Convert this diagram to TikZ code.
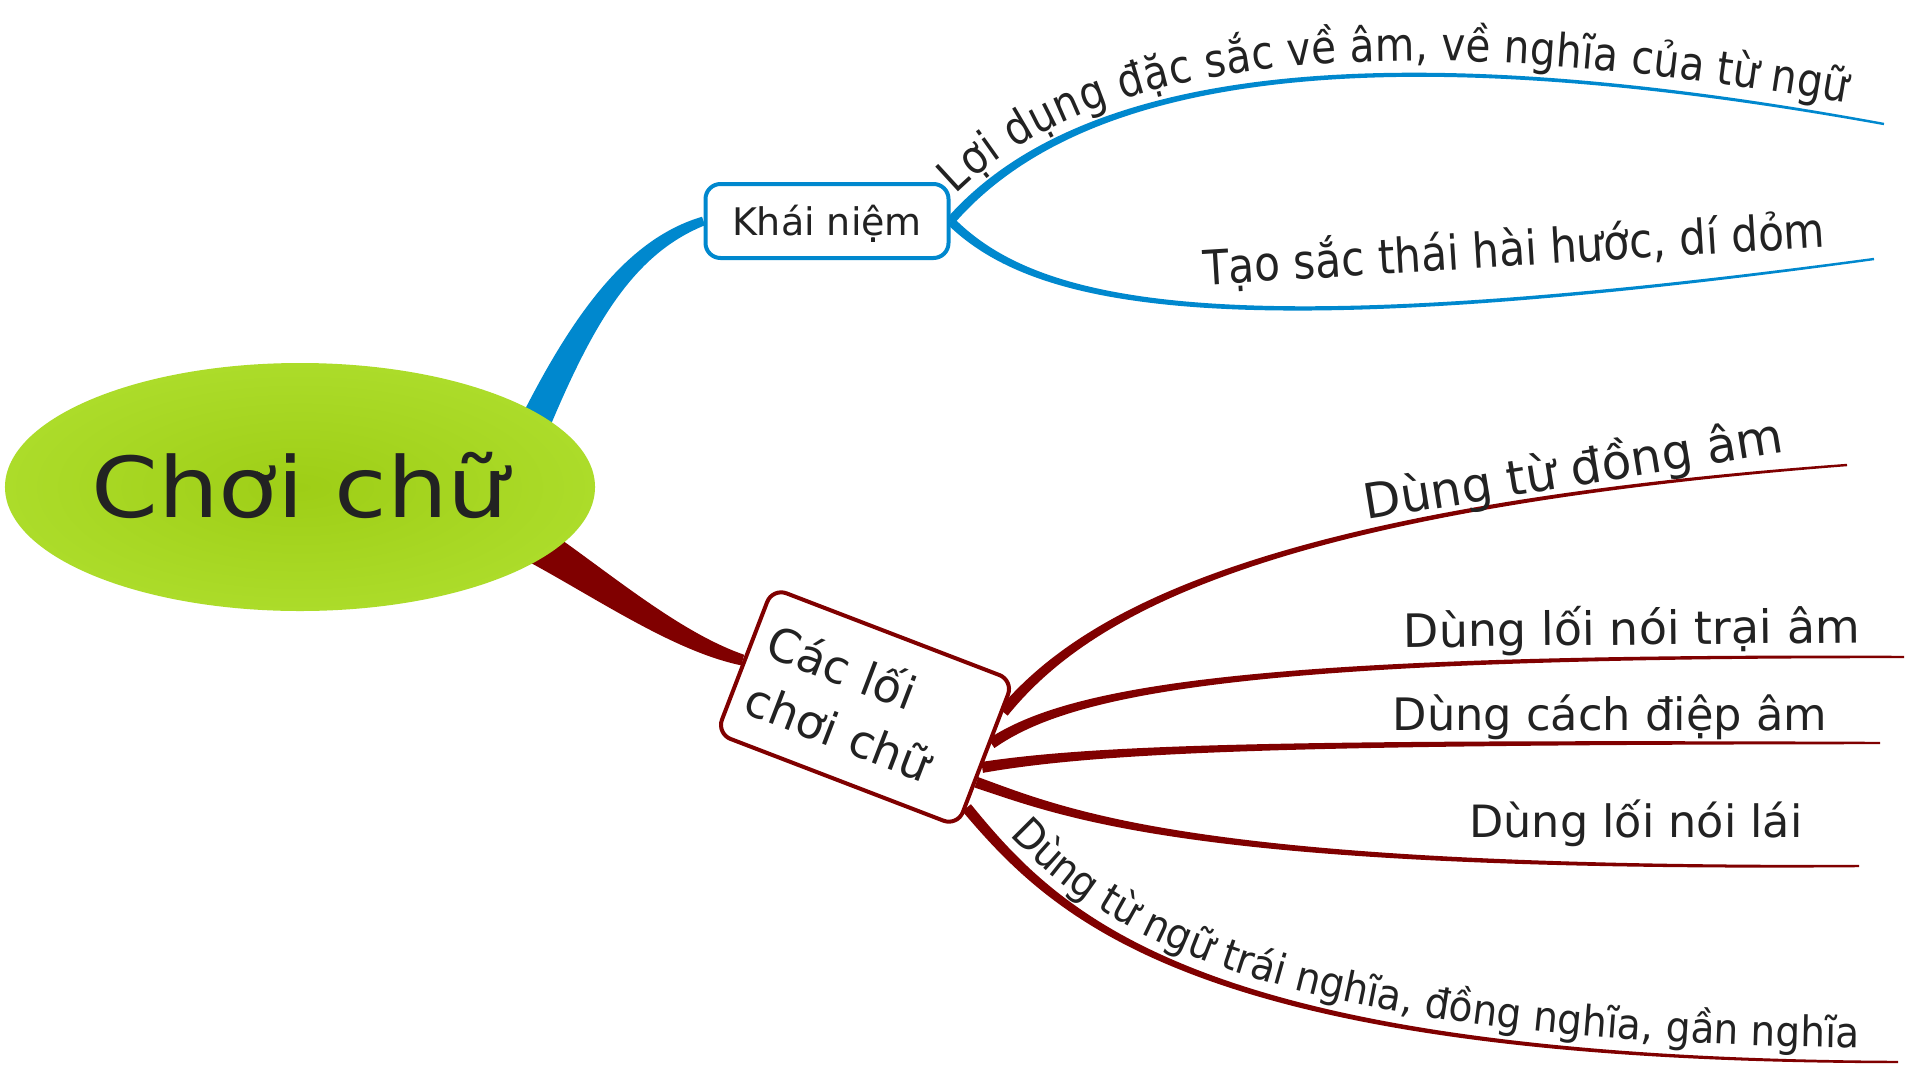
\documentclass[tikz,border=0pt]{standalone}
\usepackage{fontspec}
\setmainfont{DejaVu Sans}
\newfontfamily\rootfont[FakeStretch=1.14]{DejaVu Sans}
\newfontfamily\bluefont[FakeStretch=0.88]{DejaVu Sans}
\newfontfamily\redfont[FakeStretch=0.93]{DejaVu Sans}
\usetikzlibrary{calc,decorations.text,shapes.geometric}
\definecolor{mmblue}{RGB}{0,136,206}
\definecolor{mmred}{RGB}{128,0,0}
\definecolor{ink}{RGB}{34,34,34}
\definecolor{gin}{RGB}{158,206,22}
\definecolor{gout}{RGB}{172,220,42}
\pgfdeclarelayer{bg}
\pgfsetlayers{bg,main}
\newcommand\fsz[1]{\fontsize{#1}{#1}\selectfont}
% tapered branch: colour, P0, P1, P2, P3, half width at start, half width at end
\newcommand\tbranch[7]{%
  \pgfmathsetmacro\tbwa{(2*#6+#7)/3}%
  \pgfmathsetmacro\tbwb{(#6+2*#7)/3}%
  \fill[#1] ($(#2)!#6pt!90:(#3)$)
     .. controls ($(#3)!\tbwa pt!-90:(#2)$) and ($(#4)!\tbwb pt!90:(#5)$)
     .. ($(#5)!#7pt!-90:(#4)$)
     -- ($(#5)!#7pt!90:(#4)$)
     .. controls ($(#4)!\tbwb pt!-90:(#5)$) and ($(#3)!\tbwa pt!90:(#2)$)
     .. ($(#2)!#6pt!-90:(#3)$) -- cycle;}
\tikzset{
  rootnode/.style={ellipse, minimum width=588pt, minimum height=248pt, inner sep=0pt,
    shade, inner color=gin, outer color=gout, text=ink, font=\rootfont\fsz{84},
    text height=61pt, text depth=0pt},
  topicbox/.style={draw, rounded corners=15pt, fill=white, line width=4pt, text=ink, inner sep=0pt},
  subtext/.style={text=ink, inner sep=0pt, anchor=base},
}
\begin{document}
\begin{tikzpicture}[x=1pt,y=-1pt]
\useasboundingbox (0,0) rectangle (1908,1066);

% nodes
\node[rootnode] (root) at (300,487) {Chơi chữ};
\node[topicbox, draw=mmblue, minimum width=243pt, minimum height=74pt,
      font=\fsz{38}, text height=28pt, text depth=0pt] (kn) at (827,221) {Khái niệm};
\node[topicbox, draw=mmred, rotate=-21, minimum width=258pt, minimum height=156pt,
      font=\fontsize{46}{61}\selectfont, align=left, text width=226pt] (cb) at (865,707) {Các lối\\chơi chữ};

\node[subtext, rotate=3.5, font=\bluefont\fsz{48}] (k2t) at (1515,266) {Tạo sắc thái hài hước, dí dỏm};
\node[subtext, rotate=9.2, font=\fsz{48.5}] (t1) at (1576,486) {Dùng từ đồng âm};
\node[subtext, rotate=0.6, font=\fsz{46}] (t2) at (1632,645) {Dùng lối nói trại âm};
\node[subtext, font=\fsz{44.7}] (t3) at (1610,730) {Dùng cách điệp âm};
\node[subtext, font=\fsz{44.5}] (t4) at (1636,837) {Dùng lối nói lái};

% coordinates
\coordinate (b0) at (512,475);
\coordinate (b1) at (570,340);
\coordinate (b2) at (620,250);
\coordinate (r0) at (515,532);
\coordinate (r1) at (590,575);
\coordinate (r2) at (670,640);

\coordinate (ka1) at (1100,50);
\coordinate (ka2) at (1450,45);
\coordinate (ka3) at (1884,124);
\coordinate (kb1) at (1040,310);
\coordinate (kb2) at (1240,345);
\coordinate (kb3) at (1874,259);

\coordinate (s1) at ($(cb.north east)!0.22!(cb.south east)$);
\coordinate (s2) at ($(cb.north east)!0.43!(cb.south east)$);
\coordinate (s3) at ($(cb.north east)!0.59!(cb.south east)$);
\coordinate (s4) at ($(cb.north east)!0.69!(cb.south east)$);
\coordinate (s5) at ($(cb.north east)!0.86!(cb.south east)$);
\coordinate (c1a) at (1080,620);  \coordinate (c1b) at (1250,510);  \coordinate (c1e) at (1847,465);
\coordinate (c2a) at (1070,690);  \coordinate (c2b) at (1250,655);  \coordinate (c2e) at (1904,657);
\coordinate (c3a) at (1100,748);  \coordinate (c3b) at (1300,742);  \coordinate (c3e) at (1880,743);
\coordinate (c4a) at (1070,815);  \coordinate (c4b) at (1200,870);  \coordinate (c4e) at (1859,866);
\coordinate (c5a) at (1060,920);  \coordinate (c5b) at (1200,1060); \coordinate (c5e) at (1898,1062);

\begin{pgfonlayer}{bg}
  \fill[white] (0,0) rectangle (1908,1066);
  \tbranch{mmblue}{b0}{b1}{b2}{kn.west}{17}{4.5}
  \tbranch{mmred}{r0}{r1}{r2}{cb.west}{20}{5.5}
  \tbranch{mmblue}{kn.east}{ka1}{ka2}{ka3}{4.5}{1.2}
  \tbranch{mmblue}{kn.east}{kb1}{kb2}{kb3}{4.5}{1.2}
  \tbranch{mmred}{s1}{c1a}{c1b}{c1e}{5.5}{1.2}
  \tbranch{mmred}{s2}{c2a}{c2b}{c2e}{5.5}{1.2}
  \tbranch{mmred}{s3}{c3a}{c3b}{c3e}{5.5}{1.2}
  \tbranch{mmred}{s4}{c4a}{c4b}{c4e}{5.5}{1.2}
  \tbranch{mmred}{s5}{c5a}{c5b}{c5e}{5.5}{1.2}
\end{pgfonlayer}

% curved texts
\path[decorate, decoration={text along path, raise=14pt, text align={left indent=22pt},
  text={|\color{ink}\bluefont\fsz{46}|Lợi dụng đặc sắc về âm, về nghĩa của từ ngữ}}]
  (kn.east) .. controls (ka1) and (ka2) .. (ka3);
\path[decorate, decoration={text along path, raise=14pt, text align={left indent=50pt},
  text={|\color{ink}\redfont\fsz{42}|Dùng từ ngữ trái nghĩa, đồng nghĩa, gần nghĩa}}]
  (s5) .. controls (c5a) and (c5b) .. (c5e);
\end{tikzpicture}
\end{document}
